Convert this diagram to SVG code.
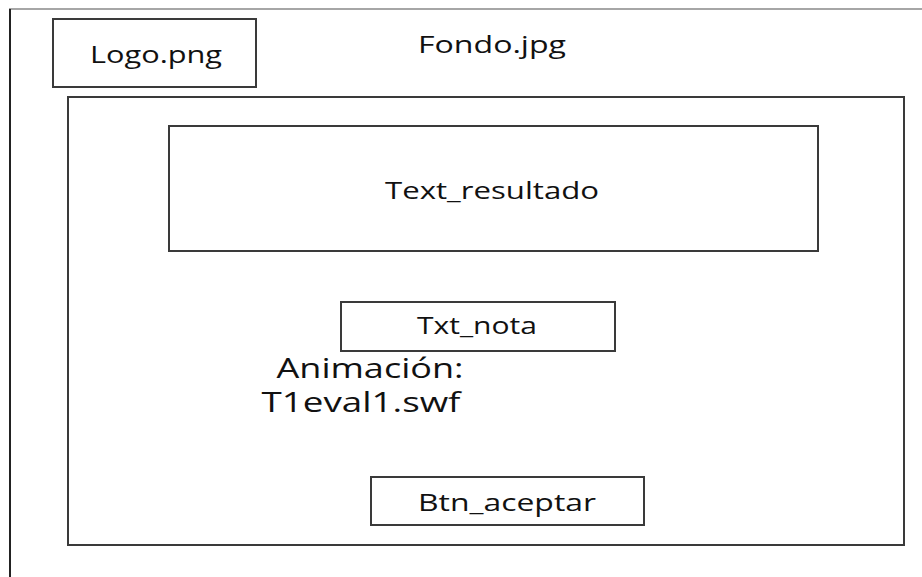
<svg xmlns="http://www.w3.org/2000/svg" width="922" height="577" viewBox="0 0 922 577">
<style>
.b{fill:#fff;stroke:#3a3a3a;stroke-width:2}
.t{font-family:"Open Sans","Liberation Sans",sans-serif;fill:#111;text-anchor:middle}
</style>
<rect width="922" height="577" fill="#fff"/>
<g id="frame">
<line x1="9" y1="9" x2="922" y2="9" stroke="#888" stroke-width="1.5"/>
<line x1="10" y1="9" x2="10" y2="577" stroke="#222" stroke-width="2"/>
</g>
<g id="fondo"><text class="t" x="492" y="53" font-size="23" textLength="148" lengthAdjust="spacingAndGlyphs">Fondo.jpg</text></g>
<g id="logo"><rect class="b" x="53" y="19" width="203" height="68"/><text class="t" x="156" y="63" font-size="23" textLength="132" lengthAdjust="spacingAndGlyphs">Logo.png</text></g>
<g id="contenedor"><rect class="b" x="68" y="97" width="836" height="448"/></g>
<g id="text_resultado"><rect class="b" x="169" y="126" width="649" height="125"/><text class="t" x="492" y="199" font-size="23" textLength="214" lengthAdjust="spacingAndGlyphs">Text_resultado</text></g>
<g id="txt_nota"><rect class="b" x="341" y="302" width="274" height="49"/><text class="t" x="477" y="334" font-size="23" textLength="120" lengthAdjust="spacingAndGlyphs">Txt_nota</text></g>
<g id="animacion"><text class="t" x="370" y="378" font-size="27" textLength="187" lengthAdjust="spacingAndGlyphs">Animación:</text><text class="t" x="361" y="412" font-size="27" textLength="199" lengthAdjust="spacingAndGlyphs">T1eval1.swf</text></g>
<g id="btn_aceptar"><rect class="b" x="371" y="477" width="273" height="48"/><text class="t" x="507" y="511" font-size="23" textLength="178" lengthAdjust="spacingAndGlyphs">Btn_aceptar</text></g>
<g id="connectors"/>
</svg>
